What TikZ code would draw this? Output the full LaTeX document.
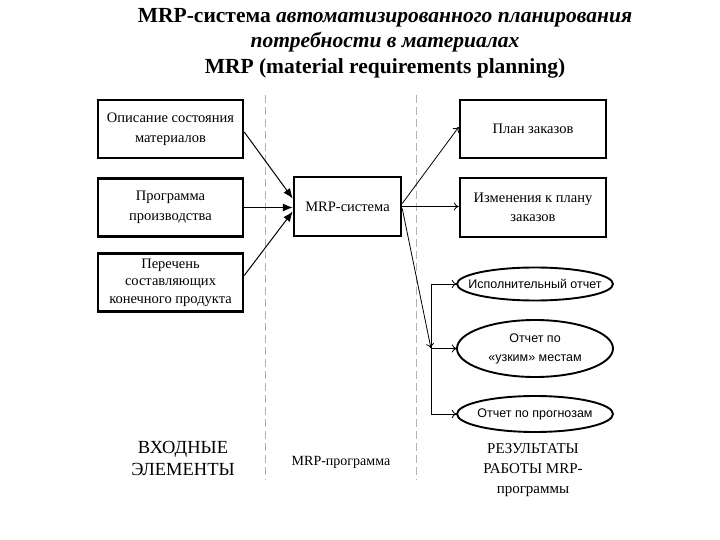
\documentclass[tikz,border=0pt]{standalone}
\usepackage{fontspec}
\setmainfont{Liberation Serif}
\newfontfamily\arialf{Liberation Sans}
\usetikzlibrary{arrows.meta,shapes.geometric,calc}
\tikzset{
  box/.style={draw, line width=2.5pt, minimum width=145pt, minimum height=58pt, align=center, inner sep=2pt, font=\fontsize{14.5}{19.5}\selectfont},
  oval/.style={minimum width=156pt, align=center, inner sep=0pt, font=\arialf\fontsize{12.5}{19}\selectfont},
  ovalline/.style={draw, line width=1.9pt},
  inarrow/.style={-{Latex[length=10pt,width=8pt]}, line width=1pt},
  outarrow/.style={-{To[length=5pt,width=8pt]}, line width=0.8pt},
  sep/.style={draw=gray!60, line width=0.8pt, dash pattern=on 8pt off 4pt},
  lbl/.style={align=center}
}
\begin{document}
\begin{tikzpicture}[x=1pt,y=-1pt]
\useasboundingbox (0,0) rectangle (720,540);
% title
\node[lbl, font=\bfseries\fontsize{21.5}{25.5}\selectfont] (title) at (385,43)
  {MRP-система \textit{автоматизированного планирования}\\
   \textit{потребности в материалах}\\
   MRP (material requirements planning)};
% separators
\coordinate (s1t) at (265,95); \coordinate (s1b) at (265,480);
\coordinate (s2t) at (416,95); \coordinate (s2b) at (416,480);
\draw[sep] (s1t) -- (s1b);
\draw[sep] (s2t) -- (s2b);
% input boxes
\node[box] (b1) at (170.5,129) {Описание состояния\\материалов};
\node[box] (b2) at (170.5,207.5) {Программа\\производства};
\node[box, font=\fontsize{14.5}{17.5}\selectfont] (b3) at (170.5,282.5) {Перечень\\составляющих\\конечного продукта};
% MRP box
\node[box, minimum width=107pt, minimum height=59pt] (mrp) at (347.5,206.5) {MRP-система};
% output boxes
\node[box, minimum width=146pt] (r1) at (533,129) {План заказов};
\node[box, minimum width=146pt, minimum height=59pt] (r2) at (533,207.5) {Изменения к плану\\заказов};
% ellipses
\node[oval, minimum height=33pt] (e1) at (535,284) {Исполнительный отчет};
\node[oval, minimum height=57pt] (e2) at (535,348.5) {Отчет по\\«узким» местам};
\node[oval, minimum height=36pt] (e3) at (535,414) {Отчет по прогнозам};
\draw[ovalline] (e1.center) ellipse [x radius=78, y radius=16.5];
\draw[ovalline] (e2.center) ellipse [x radius=78, y radius=28.5];
\draw[ovalline] (e3.center) ellipse [x radius=78, y radius=18];
% input arrows
\draw[inarrow] ([yshift=-3pt]b1.east) -- ([yshift=8pt]mrp.west);
\draw[inarrow] (b2.east) -- (b2.east -| mrp.west);
\draw[inarrow] ([yshift=7pt]b3.east) -- ([yshift=-5pt]mrp.west);
% output arrows
\draw[outarrow] ([yshift=3pt]mrp.east) -- ([yshift=2pt]r1.west);
\draw[outarrow] (mrp.east) -- (mrp.east -| r2.west);
% bracket
\coordinate (j1) at (431,284);
\coordinate (j2) at (431,348.5);
\coordinate (j3) at (431,414);
\draw[outarrow] ([yshift=-2pt]mrp.east) -- (j2);
\draw[line width=0.8pt] (j1) -- (j3);
\draw[outarrow] (j1) -- (e1.west);
\draw[outarrow] (j2) -- (e2.west);
\draw[outarrow] (j3) -- (e3.west);
% bottom labels
\node[lbl, font=\fontsize{18.5}{22}\selectfont] (l1) at (183,458) {ВХОДНЫЕ\\ЭЛЕМЕНТЫ};
\node[lbl, font=\fontsize{14}{18}\selectfont] (l2) at (341,462) {MRP-программа};
\node[lbl, font=\fontsize{15}{20}\selectfont] (l3) at (533,470) {РЕЗУЛЬТАТЫ\\РАБОТЫ MRP-\\программы};
\end{tikzpicture}
\end{document}
